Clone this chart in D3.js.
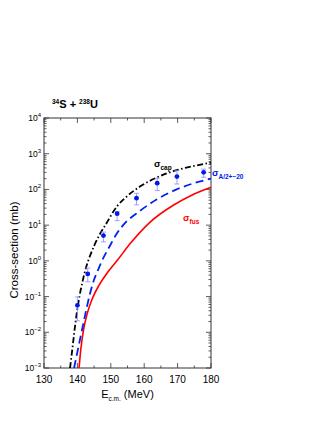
<!DOCTYPE html>
<html>
<head>
<meta charset="utf-8">
<script src="https://cdn.jsdelivr.net/npm/d3@7"></script>
<style>
  body { margin: 0; background: #fff; }
  text { font-family: "Liberation Sans", Arial, sans-serif; }
</style>
</head>
<body>
<div id="chart"></div>
<script>
// experimental points (E c.m. in MeV, cross-section in mb)
var expE    = [140.0, 143.1, 147.8, 151.9, 157.7, 163.9, 169.8, 177.8];
var expSig  = [0.057, 0.43, 5.1, 21, 57, 150, 229, 302];
var expLow  = [0.021, 0.26, 3.4, 13.4, 37, 93, 142, 219];
var expHigh = [0.098, 0.63, 6.4, 24, 78, 205, 336, 370];

// capture curve (dash-dot, black)
var capE   = [137.8, 138.5, 139.2, 139.9, 140.7, 141.6, 142.6, 143.7, 145.0, 146.5, 148.5, 151.8, 155.0, 158.7, 163.9, 169.7, 175.0, 180.0];
var capSig = [0.001, 0.0035, 0.0126, 0.040, 0.112, 0.28, 0.66, 1.32, 2.63, 5.1, 10.5, 33, 66, 120, 219, 347, 457, 562];

// A/2+-20 curve (dashed, blue)
var aE   = [139.0, 140.0, 141.0, 142.0, 143.0, 144.0, 145.0, 146.2, 147.5, 149.5, 151.8, 153.7, 158.7, 163.7, 169.7, 180.0];
var aSig = [0.001, 0.0028, 0.0079, 0.022, 0.060, 0.145, 0.30, 0.56, 1.07, 2.4, 5.8, 10, 25, 52, 100, 200];

// fusion curve (solid, red)
var fusE   = [140.5, 141.0, 141.8, 143.0, 144.5, 146.5, 149.0, 152.0, 156.0, 161.7, 168.7, 174.2, 180.0];
var fusSig = [0.001, 0.0032, 0.0112, 0.035, 0.089, 0.21, 0.47, 1.05, 3.2, 12, 36, 69, 115];

var xTicks = [130, 140, 150, 160, 170, 180];
var yExps  = [4, 3, 2, 1, 0, -1, -2, -3];

// set the dimensions and margins of the graph
var margin = {top: 118, right: 119, bottom: 58, left: 44},
    width = 330 - margin.left - margin.right,
    height = 426 - margin.top - margin.bottom;

var svg = d3.select("#chart").append("svg")
    .attr("width", 330)
    .attr("height", 426);

var g = svg.append("g")
    .attr("transform", "translate(" + margin.left + "," + margin.top + ")");

// scales
var x = d3.scaleLinear().domain([130, 180]).range([0, width]);
var y = d3.scaleLog().domain([1e-3, 1e4]).range([height, 0]);

var axisColor = "#333";

// minor ticks for the log axis
var minorY = [];
for (var e = -3; e < 4; e++) {
  for (var m = 2; m <= 9; m++) minorY.push(m * Math.pow(10, e));
}
var majorY = yExps.map(function(p) { return Math.pow(10, p); });
var minorX = [135, 145, 155, 165, 175];

// ticks pointing inwards on every side
function drawTicks(sel, vals, len, side) {
  sel.selectAll(null).data(vals).enter().append("line")
    .attr("x1", function(d) { return side === "left" ? 0 : side === "right" ? width : x(d); })
    .attr("x2", function(d) { return side === "left" ? len : side === "right" ? width - len : x(d); })
    .attr("y1", function(d) { return side === "bottom" ? height : side === "top" ? 0 : y(d); })
    .attr("y2", function(d) { return side === "bottom" ? height - len : side === "top" ? len : y(d); })
    .attr("stroke", axisColor)
    .attr("stroke-width", 0.8);
}
drawTicks(g, majorY, 5, "left");
drawTicks(g, minorY, 2.5, "left");
drawTicks(g, majorY, 5, "right");
drawTicks(g, minorY, 2.5, "right");
drawTicks(g, xTicks, 5, "bottom");
drawTicks(g, minorX, 2.5, "bottom");
drawTicks(g, xTicks, 5, "top");
drawTicks(g, minorX, 2.5, "top");

// frame
g.append("rect")
  .attr("width", width)
  .attr("height", height)
  .attr("fill", "none")
  .attr("stroke", axisColor)
  .attr("stroke-width", 1);

// x tick labels
g.selectAll(".xl").data(xTicks).enter().append("text")
  .attr("x", function(d) { return x(d); })
  .attr("y", height + 15)
  .attr("text-anchor", "middle")
  .attr("font-size", 10)
  .text(function(d) { return d; });

// y tick labels 10^n
var yl = g.selectAll(".yl").data(yExps).enter().append("text")
  .attr("x", -3)
  .attr("y", function(d) { return y(Math.pow(10, d)) + 3; })
  .attr("text-anchor", "end")
  .attr("font-size", 8.5);
yl.append("tspan").text("10");
yl.append("tspan").attr("dy", -4).attr("font-size", 6)
  .text(function(d) { return d < 0 ? "\u2212" + (-d) : d; });

// axis titles
svg.append("text")
  .attr("transform", "translate(18,250) rotate(-90)")
  .attr("text-anchor", "middle")
  .attr("font-size", 11.5)
  .text("Cross-section (mb)");

var xt = svg.append("text")
  .attr("x", margin.left + width / 2)
  .attr("y", 398)
  .attr("text-anchor", "middle")
  .attr("font-size", 11);
xt.append("tspan").text("E");
xt.append("tspan").attr("dy", 3).attr("font-size", 6.5).text("c.m.");
xt.append("tspan").attr("dy", -3).text(" (MeV)");

// reaction title
var tt = svg.append("text")
  .attr("x", 52)
  .attr("y", 108)
  .attr("font-size", 11)
  .attr("font-weight", "bold");
tt.append("tspan").attr("font-size", 6.5).attr("dy", -4).text("34");
tt.append("tspan").attr("dy", 4).text("S + ");
tt.append("tspan").attr("font-size", 6.5).attr("dy", -4).text("238");
tt.append("tspan").attr("dy", 4).text("U");

// curves
var line = d3.line()
  .x(function(d) { return x(d[0]); })
  .y(function(d) { return y(d[1]); })
  .curve(d3.curveMonotoneX);

function zip(a, b) { return a.map(function(v, i) { return [v, b[i]]; }); }

g.append("path")
  .datum(zip(fusE, fusSig))
  .attr("d", line)
  .attr("fill", "none")
  .attr("stroke", "#ff0000")
  .attr("stroke-width", 1.6);

g.append("path")
  .datum(zip(aE, aSig))
  .attr("d", line)
  .attr("fill", "none")
  .attr("stroke", "#0022ee")
  .attr("stroke-width", 1.8)
  .attr("stroke-dasharray", "8,4.5");

g.append("path")
  .datum(zip(capE, capSig))
  .attr("d", line)
  .attr("fill", "none")
  .attr("stroke", "#000")
  .attr("stroke-width", 1.8)
  .attr("stroke-dasharray", "6,2.5,1.5,2.5");

// error bars
var errColor = "#8a8aff";
var pts = expE.map(function(e, i) { return {e: e, s: expSig[i], lo: expLow[i], hi: expHigh[i]}; });
var eb = g.selectAll(".eb").data(pts).enter().append("g");
eb.append("line")
  .attr("x1", function(d) { return x(d.e); })
  .attr("x2", function(d) { return x(d.e); })
  .attr("y1", function(d) { return y(d.lo); })
  .attr("y2", function(d) { return y(d.hi); })
  .attr("stroke", errColor).attr("stroke-width", 0.8);
["lo", "hi"].forEach(function(k) {
  eb.append("line")
    .attr("x1", function(d) { return x(d.e) - 2.5; })
    .attr("x2", function(d) { return x(d.e) + 2.5; })
    .attr("y1", function(d) { return y(d[k]); })
    .attr("y2", function(d) { return y(d[k]); })
    .attr("stroke", errColor).attr("stroke-width", 0.8);
});
eb.append("circle")
  .attr("cx", function(d) { return x(d.e); })
  .attr("cy", function(d) { return y(d.s); })
  .attr("r", 2.4)
  .attr("fill", "#0018f0");

// curve labels
var lc = g.append("text").attr("x", 110).attr("y", 49)
  .attr("font-size", 9.5).attr("fill", "#000").attr("font-weight", "bold");
lc.append("tspan").text("\u03c3");
lc.append("tspan").attr("dy", 3).attr("font-size", 6.5).text("cap");

var la = g.append("text").attr("x", width + 1).attr("y", 58)
  .attr("font-size", 9.5).attr("fill", "#0022ee").attr("font-weight", "bold");
la.append("tspan").text("\u03c3");
la.append("tspan").attr("dy", 3).attr("font-size", 6.5).text("A/2+\u221220");

var lf = g.append("text").attr("x", 139).attr("y", 103)
  .attr("font-size", 9.5).attr("fill", "#ff0000").attr("font-weight", "bold");
lf.append("tspan").text("\u03c3");
lf.append("tspan").attr("dy", 3).attr("font-size", 6.5).text("fus");
</script>
</body>
</html>
